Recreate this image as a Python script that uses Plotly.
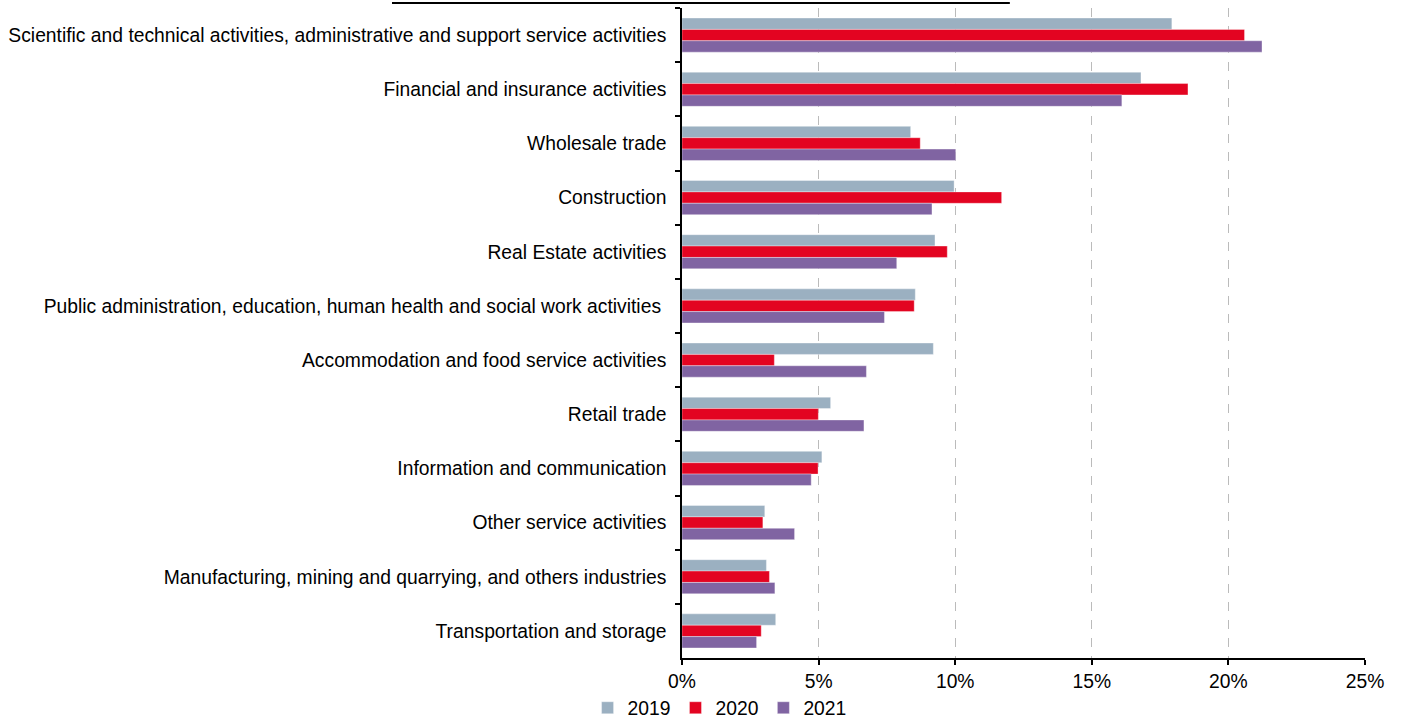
import plotly.graph_objects as go

categories = [
    "Scientific and technical activities, administrative and support service activities",
    "Financial and insurance activities",
    "Wholesale trade",
    "Construction",
    "Real Estate activities",
    "Public administration, education, human health and social work activities ",
    "Accommodation and food service activities",
    "Retail trade",
    "Information and communication",
    "Other service activities",
    "Manufacturing, mining and quarrying, and others industries",
    "Transportation and storage",
]
v2019 = [17.93, 16.80, 8.37, 9.96, 9.26, 8.54, 9.20, 5.44, 5.12, 3.03, 3.09, 3.43]
v2020 = [20.59, 18.52, 8.72, 11.70, 9.71, 8.50, 3.38, 4.99, 4.98, 2.96, 3.20, 2.90]
v2021 = [21.23, 16.10, 10.02, 9.15, 7.86, 7.41, 6.75, 6.66, 4.73, 4.12, 3.40, 2.73]
series = [("2019", v2019, "#9BB0C1"), ("2020", v2020, "#E30421"), ("2021", v2021, "#8064A2")]
xticks = [0, 5, 10, 15, 20, 25]
xticklabels = ["0%", "5%", "10%", "15%", "20%", "25%"]

FONT = "Liberation Sans, Arial, Helvetica, sans-serif"
FS = 19.3

fig = go.Figure()
for name, vals, color in series:
    fig.add_trace(go.Bar(
        y=categories, x=vals, name=name, orientation="h",
        marker=dict(color=color, line=dict(color="rgba(255,255,255,0.6)", width=0.6)),
    ))

fig.update_layout(
    width=1402, height=719,
    margin=dict(l=682, r=37, t=8, b=61, autoexpand=False),
    paper_bgcolor="white", plot_bgcolor="white",
    barmode="group", bargap=0.37, bargroupgap=0,
    font=dict(family=FONT, size=FS, color="black"),
    showlegend=True,
    legend=dict(orientation="h", xref="paper", x=0.055, xanchor="center",
                yref="container", y=0.015, yanchor="middle",
                font=dict(size=FS), itemwidth=30, tracegroupgap=0,
                bgcolor="rgba(0,0,0,0)"),
    xaxis=dict(range=[0, 25], tickvals=xticks, ticktext=xticklabels,
               showgrid=True, gridcolor="#BBBBBB", griddash="dash", gridwidth=1,
               showline=True, linecolor="black", linewidth=1.5,
               ticks="outside", ticklen=5, tickcolor="black", tickwidth=1.5,
               zeroline=False, tickfont=dict(size=FS), automargin=False),
    yaxis=dict(autorange="reversed", showline=True, linecolor="black", linewidth=1.5,
               ticks="outside", tickson="boundaries", ticklen=5, tickcolor="black",
               tickwidth=1.5, showgrid=False, tickfont=dict(size=FS),
               ticklabelstandoff=10, automargin=False),
    shapes=[dict(type="line", xref="paper", yref="paper", x0=-0.4246, x1=0.48,
                 y0=1.0077, y1=1.0077, line=dict(color="black", width=2))],
)

fig.write_html("out.html", config={"displayModeBar": False},
               post_script="document.body.style.margin='0';")
